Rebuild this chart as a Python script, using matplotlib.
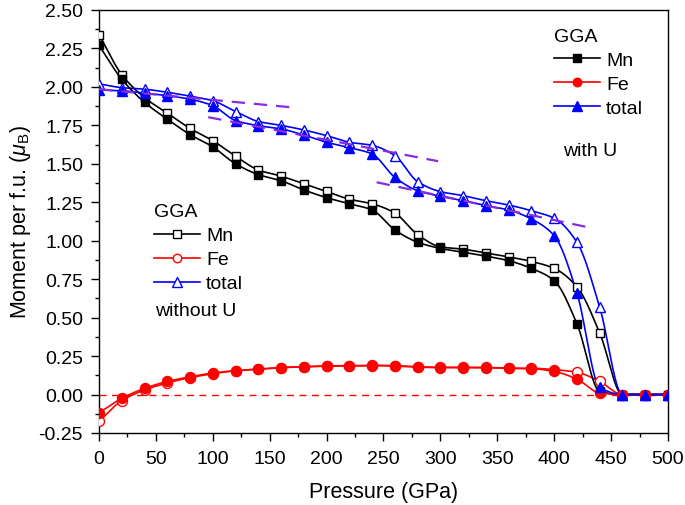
import numpy as np
import matplotlib
matplotlib.use("Agg")
import matplotlib.pyplot as plt
from matplotlib.lines import Line2D
from matplotlib.ticker import MultipleLocator, FormatStrFormatter

plt.rcParams['font.family'] = ['Liberation Sans', 'DejaVu Sans']
plt.rcParams['mathtext.fontset'] = 'custom'
plt.rcParams['mathtext.rm'] = 'Liberation Sans'
plt.rcParams['mathtext.it'] = 'Liberation Sans:italic'

# ---------------- data ----------------
pressure = [0, 20, 40, 60, 80, 100, 120, 140, 160, 180, 200, 220, 240,
            260, 280, 300, 320, 340, 360, 380, 400, 420, 440, 460, 480, 500]

mn_noU = [2.34, 2.08, 1.93, 1.83, 1.73, 1.65, 1.55, 1.46, 1.42, 1.37, 1.32, 1.27, 1.24,
          1.18, 1.04, 0.96, 0.945, 0.92, 0.895, 0.865, 0.82, 0.70, 0.40, 0.0, 0.0, 0.0]
mn_U = [2.27, 2.05, 1.90, 1.79, 1.69, 1.61, 1.50, 1.43, 1.39, 1.33, 1.28, 1.24, 1.20,
        1.07, 0.99, 0.95, 0.925, 0.90, 0.87, 0.82, 0.74, 0.46, 0.02, 0.0, 0.0, 0.0]
fe_noU = [-0.175, -0.04, 0.03, 0.075, 0.11, 0.135, 0.155, 0.165, 0.175, 0.182, 0.186, 0.188, 0.19,
          0.188, 0.18, 0.177, 0.177, 0.176, 0.172, 0.171, 0.162, 0.145, 0.085, 0.0, 0.0, 0.0]
fe_U = [-0.12, -0.025, 0.04, 0.085, 0.115, 0.14, 0.155, 0.165, 0.175, 0.18, 0.184, 0.186, 0.188,
        0.185, 0.178, 0.175, 0.175, 0.174, 0.17, 0.168, 0.15, 0.10, 0.01, 0.0, 0.0, 0.0]
total_noU = [2.02, 1.995, 1.985, 1.965, 1.94, 1.91, 1.84, 1.775, 1.75, 1.72, 1.683, 1.64, 1.62,
             1.553, 1.384, 1.319, 1.293, 1.26, 1.232, 1.195, 1.146, 0.99, 0.567, 0.0, 0.0, 0.0]
total_U = [1.98, 1.975, 1.96, 1.943, 1.92, 1.878, 1.781, 1.748, 1.727, 1.687, 1.64, 1.605, 1.564,
           1.412, 1.325, 1.289, 1.26, 1.228, 1.20, 1.141, 1.033, 0.66, 0.047, 0.0, 0.0, 0.0]

# linear fit guide lines (dashed, purple)
fit1_p = [0, 168]
fit1_m = [1.985, 1.868]
fit2_p = [96, 298]
fit2_m = [1.803, 1.517]
fit3_p = [244, 430]
fit3_m = [1.38, 1.087]

labels = ['Mn', 'Fe', 'total']


def pchip(x, y, xn):
    x = np.asarray(x, float)
    y = np.asarray(y, float)
    h = np.diff(x)
    delta = np.diff(y) / h
    n = len(x)
    d = np.zeros(n)
    for k in range(1, n - 1):
        if delta[k - 1] * delta[k] > 0:
            w1 = 2 * h[k] + h[k - 1]
            w2 = h[k] + 2 * h[k - 1]
            d[k] = (w1 + w2) / (w1 / delta[k - 1] + w2 / delta[k])
    d[0] = delta[0]
    d[-1] = delta[-1]
    idx = np.clip(np.searchsorted(x, xn) - 1, 0, n - 2)
    t = (xn - x[idx]) / h[idx]
    h00 = 2 * t**3 - 3 * t**2 + 1
    h10 = t**3 - 2 * t**2 + t
    h01 = -2 * t**3 + 3 * t**2
    h11 = t**3 - t**2
    return h00 * y[idx] + h10 * h[idx] * d[idx] + h01 * y[idx + 1] + h11 * h[idx] * d[idx + 1]


fig = plt.figure(figsize=(6.85, 5.06), dpi=100)
ax = fig.add_axes([0.1445, 0.1423, 0.8307, 0.836])

xs = np.linspace(pressure[0], pressure[-1], 1001)

# zero reference line
ax.plot([0, 500], [0, 0], color='red', lw=1.0, ls=(0, (5, 4)), zorder=1)

series = [
    (mn_noU, 'black', 's', False),
    (fe_noU, 'red', 'o', False),
    (total_noU, 'blue', '^', False),
    (mn_U, 'black', 's', True),
    (fe_U, 'red', 'o', True),
    (total_U, 'blue', '^', True),
]
msize = {'s': 6.4, 'o': 7.2, '^': 7.8}
for vals, col, mk, filled in series:
    ax.plot(xs, pchip(pressure, vals, xs), color=col, lw=1.2, zorder=2)
    ax.plot(pressure, vals, ls='none', marker=mk, ms=msize[mk],
            mfc=col if filled else 'white', mec=col, mew=1.0, zorder=3)

for fp, fm in [(fit1_p, fit1_m), (fit2_p, fit2_m), (fit3_p, fit3_m)]:
    ax.plot(fp, fm, color='#8a2be2', lw=1.6, ls=(0, (6, 4)), zorder=4)

ax.set_xlim(0, 500)
ax.set_ylim(-0.25, 2.5)
ax.xaxis.set_major_locator(MultipleLocator(50))
ax.xaxis.set_minor_locator(MultipleLocator(25))
ax.yaxis.set_major_locator(MultipleLocator(0.25))
ax.yaxis.set_minor_locator(MultipleLocator(0.125))
ax.yaxis.set_major_formatter(FormatStrFormatter('%.2f'))
ax.tick_params(which='major', direction='out', length=5.5, width=1.0, labelsize=14,
               top=False, right=False)
ax.tick_params(axis='x', which='major', pad=6.5)
ax.tick_params(axis='y', which='major', pad=6.0)
ax.tick_params(which='minor', direction='out', length=3.0, width=1.0, top=False, right=False)
for s in ax.spines.values():
    s.set_linewidth(1.0)

ax.set_xlabel('Pressure (GPa)', fontsize=15.5, labelpad=10)
ax.set_ylabel(r'Moment per f.u. ($\mu_{\mathrm{B}}$)', fontsize=15.5, labelpad=4)

# legends
cols = ['black', 'red', 'blue']
mks = ['s', 'o', '^']
h_U = [Line2D([], [], color=c, lw=1.2, marker=m, ms=msize[m], mfc=c, mec=c) for c, m in zip(cols, mks)]
h_noU = [Line2D([], [], color=c, lw=1.2, marker=m, ms=msize[m], mfc='white', mec=c) for c, m in zip(cols, mks)]

common = dict(loc='upper left', frameon=False, fontsize=14, title_fontsize=14,
              handlelength=2.37, handletextpad=0.3, labelspacing=0.33, borderpad=0,
              borderaxespad=0, alignment='left', markerscale=0.85)
leg1 = ax.legend(h_U, labels, title='GGA', bbox_to_anchor=(0.800, 0.958), **common)
ax.add_artist(leg1)
leg2 = ax.legend(h_noU, labels, title='GGA', bbox_to_anchor=(0.097, 0.543), **common)

ax.text(0.815, 0.667, 'with U', transform=ax.transAxes, fontsize=14, va='center', ha='left')
ax.text(0.099, 0.290, 'without U', transform=ax.transAxes, fontsize=14, va='center', ha='left')

fig.savefig('out.png', dpi=100)
